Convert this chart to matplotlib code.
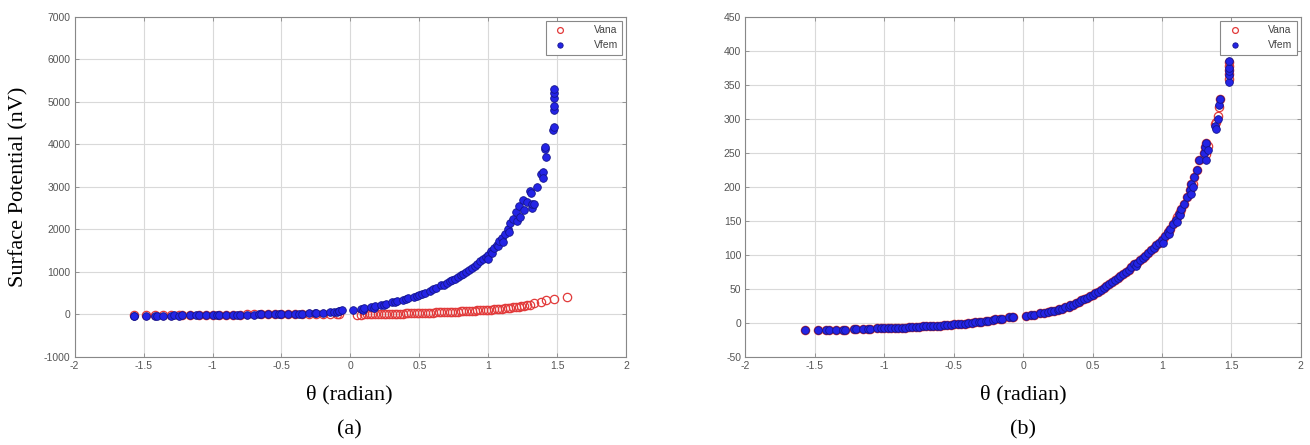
import matplotlib.pyplot as plt
import numpy as np

plt.rcParams['axes.unicode_minus'] = False

# panel (a): theta (rad) and potential (nV)
theta_a_fem = [-1.57, -1.57, -1.48, -1.42, -1.40, -1.36, -1.30, -1.28, -1.24, -1.22, -1.16, -1.12,
               -1.10, -1.05, -1.00, -0.97, -0.95, -0.90, -0.85, -0.82, -0.80, -0.75, -0.70, -0.66,
               -0.65, -0.60, -0.55, -0.52, -0.50, -0.45, -0.40, -0.37, -0.35, -0.30, -0.26, -0.25,
               -0.20, -0.15, -0.12, -0.10, -0.08, -0.08, -0.06, 0.02, 0.08, 0.09, 0.10, 0.15, 0.17,
               0.18, 0.22, 0.24, 0.26, 0.30, 0.32, 0.34, 0.38, 0.40, 0.42, 0.46, 0.48, 0.50, 0.52,
               0.54, 0.58, 0.60, 0.62, 0.66, 0.68, 0.70, 0.72, 0.74, 0.76, 0.78, 0.80, 0.82, 0.84,
               0.86, 0.88, 0.90, 0.92, 0.94, 0.96, 0.98, 1.00, 1.00, 1.02, 1.03, 1.04, 1.06, 1.07,
               1.08, 1.10, 1.11, 1.12, 1.14, 1.15, 1.16, 1.18, 1.20, 1.21, 1.22, 1.23, 1.25, 1.26,
               1.28, 1.30, 1.31, 1.32, 1.32, 1.33, 1.35, 1.38, 1.40, 1.40, 1.41, 1.41, 1.42, 1.47,
               1.48, 1.48, 1.48, 1.48, 1.48, 1.48]
v_a_fem = [-40, -30, -40, -35, -30, -35, -30, -25, -30, -25, -25, -20,
           -20, -20, -15, -15, -12, -12, -10, -8, -8, -5, -3, 0,
           0, 3, 5, 5, 8, 12, 15, 18, 20, 25, 28, 30,
           40, 50, 55, 60, 80, 70, 95, 110, 130, 110, 150, 170, 160,
           190, 220, 230, 250, 280, 300, 310, 340, 370, 380, 420, 430, 460, 490,
           510, 560, 590, 620, 680, 700, 740, 780, 810, 840, 880, 920, 960, 1000,
           1040, 1090, 1140, 1190, 1250, 1300, 1360, 1400, 1300, 1480, 1450, 1560, 1640, 1600,
           1720, 1800, 1700, 1900, 2000, 1950, 2150, 2250, 2400, 2200, 2550, 2300, 2700, 2450,
           2650, 2900, 2850, 2500, 2600, 2600, 3000, 3300, 3350, 3200, 3900, 3950, 3700, 4350,
           4400, 4800, 4900, 5100, 5200, 5300]

theta_a_ana = [-1.57, -1.48, -1.42, -1.36, -1.30, -1.24, -1.22, -1.16, -1.10, -1.05, -1.00,
               -0.95, -0.90, -0.85, -0.80, -0.75, -0.70, -0.65, -0.60, -0.55, -0.50, -0.45,
               -0.40, -0.35, -0.30, -0.25, -0.20, -0.15, -0.10, -0.08, 0.05, 0.08, 0.10, 0.12,
               0.14, 0.16, 0.18, 0.20, 0.22, 0.24, 0.26, 0.28, 0.30, 0.32, 0.34, 0.36, 0.38,
               0.40, 0.42, 0.44, 0.46, 0.48, 0.50, 0.52, 0.54, 0.56, 0.58, 0.60, 0.62, 0.64,
               0.66, 0.68, 0.70, 0.72, 0.74, 0.76, 0.78, 0.80, 0.82, 0.84, 0.86, 0.88, 0.90,
               0.92, 0.94, 0.96, 0.98, 1.00, 1.02, 1.04, 1.06, 1.08, 1.10, 1.12, 1.14, 1.16,
               1.18, 1.20, 1.22, 1.24, 1.26, 1.28, 1.30, 1.33, 1.38, 1.42, 1.48, 1.57]
v_a_ana = [-10, -10, -10, -10, -8, -8, -8, -6, -6, -5, -5,
           -4, -4, -3, -3, -2, -1, 0, 0, 1, 2, 3,
           4, 5, 6, 8, 10, 12, 15, 20, -10, -5, 0, 1,
           2, 4, 5, 6, 8, 9, 10, 12, 14, 15, 17, 18, 20,
           22, 24, 26, 28, 30, 32, 34, 36, 38, 40, 43, 45, 48,
           50, 53, 56, 59, 62, 65, 68, 72, 75, 79, 82, 86, 90,
           94, 98, 102, 106, 111, 115, 120, 125, 131, 138, 144, 150, 157,
           165, 172, 180, 190, 200, 212, 225, 260, 300, 330, 370, 420]

# panel (b)
theta_b = [-1.57, -1.48, -1.42, -1.40, -1.35, -1.30, -1.28, -1.22, -1.20, -1.15, -1.12, -1.10,
           -1.05, -1.02, -1.00, -0.97, -0.95, -0.92, -0.90, -0.87, -0.85, -0.82, -0.80, -0.77,
           -0.75, -0.72, -0.70, -0.67, -0.65, -0.62, -0.60, -0.57, -0.55, -0.52, -0.50, -0.47,
           -0.45, -0.42, -0.40, -0.37, -0.35, -0.32, -0.30, -0.27, -0.25, -0.22, -0.20, -0.17,
           -0.15, -0.10, -0.08, -0.07, 0.02, 0.06, 0.08, 0.12, 0.15, 0.18, 0.20, 0.22, 0.25,
           0.26, 0.28, 0.30, 0.33, 0.34, 0.36, 0.38, 0.40, 0.42, 0.44, 0.46, 0.48, 0.50, 0.52,
           0.54, 0.56, 0.58, 0.60, 0.62, 0.64, 0.66, 0.68, 0.70, 0.72, 0.74, 0.76, 0.78, 0.80,
           0.81, 0.82, 0.84, 0.86, 0.88, 0.90, 0.92, 0.94, 0.96, 0.98, 1.00, 1.01, 1.02, 1.04,
           1.05, 1.06, 1.08, 1.10, 1.11, 1.12, 1.13, 1.14, 1.16, 1.18, 1.20, 1.21, 1.21, 1.22,
           1.23, 1.25, 1.27, 1.30, 1.31, 1.32, 1.32, 1.33, 1.38, 1.39, 1.40, 1.41, 1.42, 1.48,
           1.48, 1.48, 1.48, 1.48]
v_b_fem = [-10, -10, -10, -10, -10, -10, -10, -9, -9, -9, -9, -9,
           -8, -8, -8, -8, -8, -7, -7, -7, -7, -6, -6, -6,
           -6, -5, -5, -5, -4, -4, -4, -3, -3, -3, -2, -2,
           -1, -1, 0, 0, 1, 1, 2, 3, 3, 4, 5, 5,
           6, 8, 8, 9, 10, 11, 12, 14, 15, 16, 17, 18, 19,
           20, 21, 23, 24, 26, 27, 29, 30, 33, 35, 37, 39, 41, 44,
           46, 48, 51, 54, 57, 60, 63, 66, 69, 72, 75, 78, 82, 86,
           84, 88, 92, 95, 99, 103, 107, 110, 114, 118, 122, 118, 128, 133,
           130, 138, 145, 152, 148, 160, 158, 168, 175, 185, 195, 190, 205, 200,
           215, 225, 240, 250, 258, 265, 240, 255, 290, 285, 300, 320, 330, 355,
           365, 370, 375, 385]
v_b_ana = [-10, -10, -10, -10, -10, -10, -10, -9, -9, -9, -9, -9,
           -8, -8, -8, -8, -8, -7, -7, -7, -7, -6, -6, -6,
           -6, -5, -5, -5, -4, -4, -4, -3, -3, -3, -2, -2,
           -1, -1, 0, 0, 1, 1, 2, 3, 3, 4, 5, 5,
           6, 8, 8, 9, 10, 11, 12, 14, 15, 16, 17, 18, 19,
           20, 21, 23, 24, 26, 27, 29, 30, 33, 35, 37, 39, 41, 44,
           46, 48, 51, 54, 57, 60, 63, 66, 69, 72, 75, 78, 82, 86,
           86, 88, 92, 95, 99, 103, 107, 110, 114, 118, 122, 124, 128, 133,
           135, 138, 145, 152, 155, 160, 163, 168, 175, 185, 195, 198, 205, 205,
           215, 225, 240, 250, 258, 265, 248, 260, 292, 295, 305, 318, 330, 358,
           366, 372, 378, 384]

x_ticks = [-2, -1.5, -1, -0.5, 0, 0.5, 1, 1.5, 2]
x_ticklabels = ['-2', '-1.5', '-1', '-0.5', '0', '0.5', '1', '1.5', '2']

fig = plt.figure(figsize=(13.1, 4.45), dpi=100)
ax_a = fig.add_axes([0.057, 0.198, 0.421, 0.764])
ax_b = fig.add_axes([0.569, 0.198, 0.424, 0.764])

def style_axes(ax, yticks):
    ax.set_xlim(-2, 2)
    ax.set_xticks(x_ticks)
    ax.set_xticklabels(x_ticklabels)
    ax.set_ylim(yticks[0], yticks[-1])
    ax.set_yticks(yticks)
    ax.set_yticklabels([str(v) for v in yticks])
    ax.grid(True, color='#d9d9d9', linewidth=0.8)
    ax.set_axisbelow(True)
    ax.tick_params(direction='in', length=3, width=0.6, top=True, right=True,
                   labelsize=7.5, labelcolor='#555555', color='#888888', pad=3)
    for lbl in ax.get_xticklabels() + ax.get_yticklabels():
        lbl.set_family('Liberation Sans')
    for s in ax.spines.values():
        s.set_color('#888888')
        s.set_linewidth(0.8)

ana_style = dict(linestyle='none', marker='o', markersize=6, markerfacecolor='none',
                 markeredgecolor='#e23a3a', markeredgewidth=0.9)
fem_style = dict(linestyle='none', marker='o', markersize=5.5, markerfacecolor='#2424e6',
                 markeredgecolor='#14148c', markeredgewidth=0.6)

ax_a.plot(theta_a_ana, v_a_ana, label='Vana', **ana_style)
ax_a.plot(theta_a_fem, v_a_fem, label='Vfem', **fem_style)
style_axes(ax_a, list(range(-1000, 7001, 1000)))

ax_b.plot(theta_b, v_b_ana, label='Vana', **ana_style)
ax_b.plot(theta_b, v_b_fem, label='Vfem', **fem_style)
style_axes(ax_b, list(range(-50, 451, 50)))

for ax in (ax_a, ax_b):
    leg = ax.legend(loc='upper right', frameon=True, fancybox=False,
                    borderaxespad=0.4, handletextpad=2.2, markerscale=0.7,
                    prop={'family': 'Liberation Sans', 'size': 7.5})
    leg.get_frame().set_edgecolor('#888888')
    leg.get_frame().set_linewidth(0.8)
    leg.get_frame().set_alpha(1)
    for t in leg.get_texts():
        t.set_color('#444444')

serif = 'Liberation Serif'
fig.text(0.014, 0.58, 'Surface Potential (nV)', rotation=90, ha='center', va='center',
         family=serif, fontsize=16)
fig.text(0.267, 0.112, 'θ (radian)', ha='center', va='center', family=serif, fontsize=16)
fig.text(0.267, 0.035, '(a)', ha='center', va='center', family=serif, fontsize=16)
fig.text(0.781, 0.112, 'θ (radian)', ha='center', va='center', family=serif, fontsize=16)
fig.text(0.781, 0.035, '(b)', ha='center', va='center', family=serif, fontsize=16)

fig.savefig('out.png', dpi=100)
